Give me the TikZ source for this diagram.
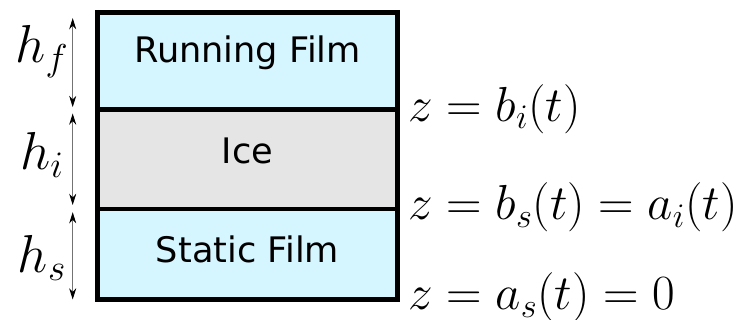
\documentclass[tikz,border=0pt]{standalone}
\usepackage{fix-cm}
\usepackage{fontspec}
\newfontfamily\layerfont{DejaVu Sans}
\usetikzlibrary{arrows.meta}
\definecolor{filmblue}{RGB}{213, 245, 255}
\definecolor{icegray}{RGB}{229, 229, 229}

\tikzset{
  layer/.style={draw=black, line width=3.5pt, minimum width=7.5cm, inner sep=0pt, outer sep=0pt},
  layertext/.style={anchor=base, font=\layerfont\fontsize{25}{30}\selectfont},
  dimarrow/.style={{Stealth[length=8pt,width=5pt,black]}-{Stealth[length=8pt,width=5pt,black]}, line width=0.6pt, draw=black!55},
  heightlabel/.style={font=\fontsize{38}{45}\selectfont},
  levellabel/.style={anchor=base west, inner sep=0pt, font=\fontsize{35}{42}\selectfont}
}

\begin{document}
\begin{tikzpicture}
  \useasboundingbox (0,0) rectangle (18.575,8);

  % Layers of the column (centres at x=6.1875 cm)
  \node[layer, fill=filmblue, minimum height=2.425cm] (run) at (6.1875, 6.475) {};
  \node[layer, fill=icegray, minimum height=2.4875cm] (ice) at (6.1875, 4.01875) {};
  \node[layer, fill=filmblue, minimum height=2.2625cm] (static) at (6.1875, 1.64375) {};

  % Layer names
  \node[layertext] (runtxt) at (6.1875, 6.425) {Running Film};
  \node[layertext] (icetxt) at (6.1875, 3.9) {Ice};
  \node[layertext] (statictxt) at (6.1875, 1.43) {Static Film};

  % Thickness arrows, 0.62 cm left of the column
  \draw[dimarrow] ([xshift=-0.62cm, yshift=-0.14cm]run.north west) -- ([xshift=-0.62cm, yshift=0.06cm]run.south west);
  \draw[dimarrow] ([xshift=-0.62cm, yshift=-0.1cm]ice.north west) -- ([xshift=-0.62cm, yshift=0.1cm]ice.south west);
  \draw[dimarrow] ([xshift=-0.62cm, yshift=-0.08cm]static.north west) -- ([xshift=-0.62cm]static.south west);

  % Thickness labels
  \node[heightlabel] (hf) at (1.05, 6.7) {$h_f$};
  \node[heightlabel] (hi) at (1.05, 4.125) {$h_i$};
  \node[heightlabel] (hs) at (1.05, 1.55) {$h_s$};

  % Interface levels (baselines), right of the column
  \node[levellabel] (bi) at (10.2, 4.96) {$z=b_i(t)$};
  \node[levellabel] (bs) at (10.2, 2.5) {$z=b_s(t)=a_i(t)$};
  \node[levellabel] (as) at (10.2, 0.25) {$z=a_s(t)=0$};
\end{tikzpicture}
\end{document}
